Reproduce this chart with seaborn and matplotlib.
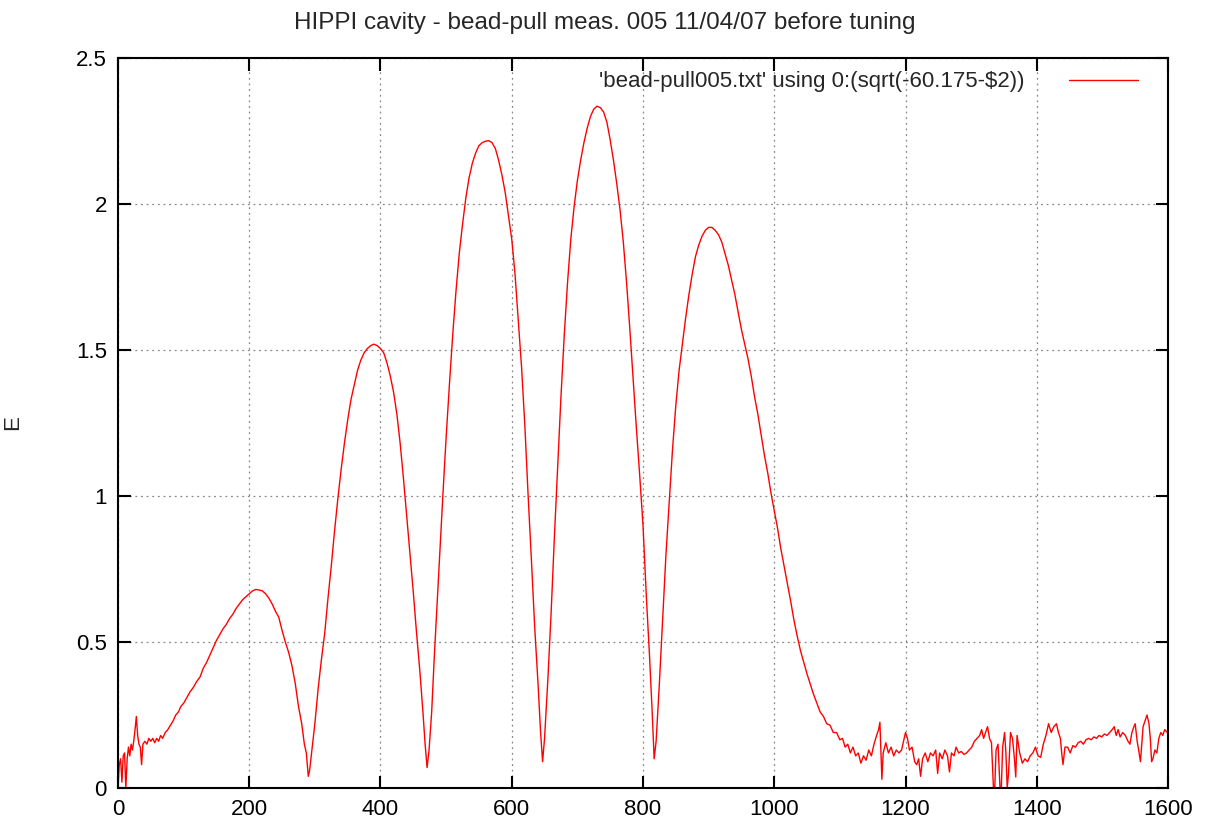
import numpy as np
import pandas as pd
import matplotlib
matplotlib.use("Agg")
import matplotlib.pyplot as plt
import seaborn as sns

# === Data ===
pos = [0, 2, 4, 6, 8, 10, 12, 14, 16, 18, 20, 22, 24, 26, 28, 30, 32, 34, 36, 38,
       41, 44, 47, 50, 53, 56, 59, 62, 65, 68, 72, 76, 80, 84, 88, 92, 96, 100,
       105, 110, 115, 120, 125, 130, 135, 140, 145, 150, 155, 160, 165, 170, 175,
       180, 185, 190, 195, 200, 205, 210, 215, 220, 225, 230, 235, 240, 245, 250,
       255, 260, 265, 270, 275, 280, 284, 287, 290, 292, 295, 300, 305, 310, 315,
       320, 325, 330, 335, 340, 345, 350, 355, 360, 365, 370, 375, 380, 385, 390,
       395, 400, 405, 410, 415, 420, 425, 430, 435, 440, 445, 450, 455, 460, 465,
       468, 471, 474, 478, 482, 486, 490, 495, 500, 505, 510, 515, 520, 525, 530,
       535, 540, 545, 550, 555, 560, 565, 570, 575, 580, 585, 590, 595, 600, 605,
       610, 615, 620, 625, 630, 635, 640, 644, 647, 650, 655, 660, 665, 670, 675,
       680, 685, 690, 695, 700, 705, 710, 715, 720, 725, 730, 735, 740, 745, 750,
       755, 760, 765, 770, 775, 780, 785, 790, 795, 800, 805, 810, 814, 817, 820,
       825, 830, 835, 840, 845, 850, 855, 860, 865, 870, 875, 880, 885, 890, 895,
       900, 905, 910, 915, 920, 925, 930, 935, 940, 945, 950, 955, 960, 965, 970,
       975, 980, 985, 990, 995, 1000, 1005, 1010, 1015, 1020, 1025, 1030, 1035,
       1040, 1045, 1050, 1055, 1060, 1065, 1070, 1075, 1080, 1085, 1090, 1095,
       1100, 1104, 1108, 1112, 1116, 1120, 1124, 1128, 1132, 1136, 1140, 1144,
       1148, 1152, 1156, 1159, 1161, 1163, 1164, 1166, 1170, 1174, 1178, 1182,
       1186, 1190, 1194, 1197, 1200, 1203, 1206, 1210, 1214, 1217, 1220, 1223,
       1226, 1230, 1234, 1238, 1242, 1246, 1249, 1252, 1256, 1260, 1264, 1267,
       1270, 1274, 1277, 1281, 1285, 1289, 1293, 1297, 1301, 1305, 1309, 1313,
       1316, 1319, 1322, 1325, 1328, 1331, 1334, 1336, 1338, 1341, 1344, 1346,
       1348, 1351, 1353, 1355, 1357, 1360, 1363, 1366, 1368, 1370, 1374, 1378,
       1382, 1386, 1390, 1394, 1398, 1402, 1406, 1410, 1414, 1418, 1422, 1426,
       1430, 1433, 1436, 1438, 1440, 1443, 1447, 1451, 1455, 1459, 1463, 1467,
       1471, 1475, 1479, 1483, 1487, 1491, 1495, 1499, 1503, 1507, 1511, 1515,
       1518, 1521, 1524, 1527, 1531, 1535, 1539, 1542, 1545, 1548, 1550, 1553,
       1556, 1558, 1560, 1562, 1565, 1568, 1571, 1573, 1575, 1577, 1580, 1583,
       1586, 1589, 1592, 1595, 1599]

field = [0.0, 0.08, 0.10, 0.02, 0.11, 0.12, 0.0, 0.10, 0.14, 0.11, 0.15, 0.13, 0.16,
         0.20, 0.245, 0.18, 0.15, 0.14, 0.08, 0.15,
         0.16, 0.15, 0.17, 0.16, 0.17, 0.155, 0.17, 0.16, 0.18, 0.17, 0.19, 0.20,
         0.215, 0.23, 0.25, 0.26, 0.28, 0.29,
         0.31, 0.33, 0.345, 0.365, 0.38, 0.41, 0.43, 0.455, 0.48, 0.505, 0.525,
         0.545, 0.56, 0.58, 0.595,
         0.615, 0.63, 0.645, 0.655, 0.665, 0.675, 0.68, 0.678, 0.675, 0.665, 0.65,
         0.63, 0.605, 0.585, 0.54,
         0.50, 0.465, 0.42, 0.36, 0.28, 0.22, 0.15, 0.12, 0.04, 0.06, 0.12, 0.22,
         0.34, 0.44, 0.53,
         0.65, 0.76, 0.88, 0.99, 1.09, 1.18, 1.26, 1.33, 1.38, 1.43, 1.465, 1.49,
         1.505, 1.515, 1.52,
         1.515, 1.505, 1.49, 1.455, 1.41, 1.355, 1.28, 1.18, 1.06, 0.93, 0.80, 0.67,
         0.53, 0.40, 0.25,
         0.15, 0.07, 0.13, 0.26, 0.45, 0.62, 0.79, 1.0, 1.2, 1.38, 1.55, 1.70, 1.83,
         1.93, 2.02,
         2.09, 2.14, 2.175, 2.20, 2.21, 2.215, 2.217, 2.21, 2.19, 2.15, 2.10, 2.04,
         1.96, 1.88, 1.76,
         1.60, 1.44, 1.24, 1.0, 0.78, 0.55, 0.36, 0.19, 0.09, 0.17, 0.37, 0.60, 0.86,
         1.10, 1.34,
         1.55, 1.73, 1.88, 1.99, 2.08, 2.15, 2.21, 2.26, 2.30, 2.325, 2.335, 2.33,
         2.315, 2.28, 2.22,
         2.15, 2.07, 1.98, 1.87, 1.73, 1.57, 1.40, 1.23, 1.07, 0.90, 0.66, 0.45,
         0.26, 0.10, 0.16,
         0.36, 0.58, 0.80, 0.98, 1.16, 1.31, 1.43, 1.52, 1.61, 1.69, 1.76, 1.82,
         1.86, 1.89, 1.91,
         1.92, 1.92, 1.91, 1.895, 1.87, 1.83, 1.79, 1.74, 1.69, 1.63, 1.57, 1.52,
         1.47, 1.41, 1.34,
         1.28, 1.21, 1.14, 1.08, 1.01, 0.95, 0.89, 0.82, 0.76, 0.70, 0.64, 0.575,
         0.52,
         0.47, 0.43, 0.39, 0.355, 0.32, 0.29, 0.26, 0.245, 0.22, 0.215, 0.19, 0.19,
         0.165, 0.17, 0.14, 0.15, 0.12, 0.14, 0.11, 0.12, 0.085, 0.11, 0.095, 0.13,
         0.11, 0.15, 0.18, 0.20, 0.225, 0.10, 0.03, 0.12, 0.155, 0.12, 0.14, 0.11,
         0.13, 0.12, 0.13, 0.16, 0.19, 0.17, 0.13, 0.14, 0.09, 0.08, 0.10, 0.04,
         0.10, 0.12, 0.09, 0.12, 0.11, 0.13, 0.05, 0.12, 0.10, 0.13, 0.11, 0.055,
         0.12, 0.11, 0.14, 0.12, 0.125, 0.115, 0.12, 0.13, 0.14, 0.16, 0.17, 0.18,
         0.20, 0.17, 0.19, 0.21, 0.17, 0.155, 0.0, 0.0, 0.13, 0.15, 0.0, 0.0,
         0.14, 0.19, 0.12, 0.0, 0.05, 0.19, 0.17, 0.10, 0.038, 0.18, 0.12, 0.085,
         0.10, 0.09, 0.11, 0.12, 0.14, 0.11, 0.105, 0.15, 0.18, 0.22, 0.19, 0.21,
         0.22, 0.19, 0.17, 0.12, 0.08, 0.14, 0.14, 0.12, 0.145, 0.14, 0.155, 0.16,
         0.15, 0.165, 0.17, 0.165, 0.175, 0.17, 0.18, 0.175, 0.185, 0.18, 0.19, 0.20,
         0.21, 0.18, 0.20, 0.175, 0.19, 0.18, 0.16, 0.15, 0.19, 0.21, 0.22, 0.16,
         0.12, 0.09, 0.15, 0.21, 0.23, 0.25, 0.22, 0.17, 0.09, 0.10, 0.13, 0.12,
         0.17, 0.19, 0.18, 0.20, 0.19]

x_ticks = [0, 200, 400, 600, 800, 1000, 1200, 1400, 1600]
y_ticks = [0, 0.5, 1, 1.5, 2, 2.5]
y_tick_labels = ["0", "0.5", "1", "1.5", "2", "2.5"]
legend_label = "'bead-pull005.txt' using 0:(sqrt(-60.175-\\$2))"

df = pd.DataFrame({"pos": pos, "E": field})

# === Style ===
sns.set_style("ticks")
plt.rcParams["font.family"] = ["Liberation Sans", "DejaVu Sans"]
plt.rcParams.update({
    "font.size": 16,
    "xtick.labelsize": 16,
    "ytick.labelsize": 16,
    "axes.linewidth": 1.5,
})

fig = plt.figure(figsize=(12.1, 8.24), dpi=100)
ax = fig.add_axes([0.0975, 0.0437, 0.8678, 0.8859])

sns.lineplot(data=df, x="pos", y="E", color="red", linewidth=1.0,
             label=legend_label, ax=ax, sort=False, estimator=None)

ax.set_xlim(0, 1600)
ax.set_ylim(0, 2.5)
ax.set_xticks(x_ticks)
ax.set_yticks(y_ticks)
ax.set_yticklabels(y_tick_labels)
ax.set_xlabel("")
ax.set_ylabel("E", fontsize=16)
ax.yaxis.set_label_coords(-0.09, 0.5)

ax.tick_params(direction="in", length=9, width=1.5, top=True, right=True,
               labeltop=False, labelright=False, pad=8, colors="black")
ax.grid(True, linestyle=(0, (1.5, 3)), color="#888888", linewidth=0.9)
for spine in ax.spines.values():
    spine.set_visible(True)
    spine.set_color("black")

ax.legend(loc="upper right", frameon=False, markerfirst=False,
          handlelength=3.1, handletextpad=2.0, fontsize=16, borderaxespad=0.4,
          bbox_to_anchor=(0.988, 1.006))

fig.text(0.5, 0.972, "HIPPI cavity - bead-pull meas. 005 11/04/07 before tuning",
         fontsize=17.5, ha="center", va="center")

plt.savefig("out.png", dpi=100)
plt.close()
